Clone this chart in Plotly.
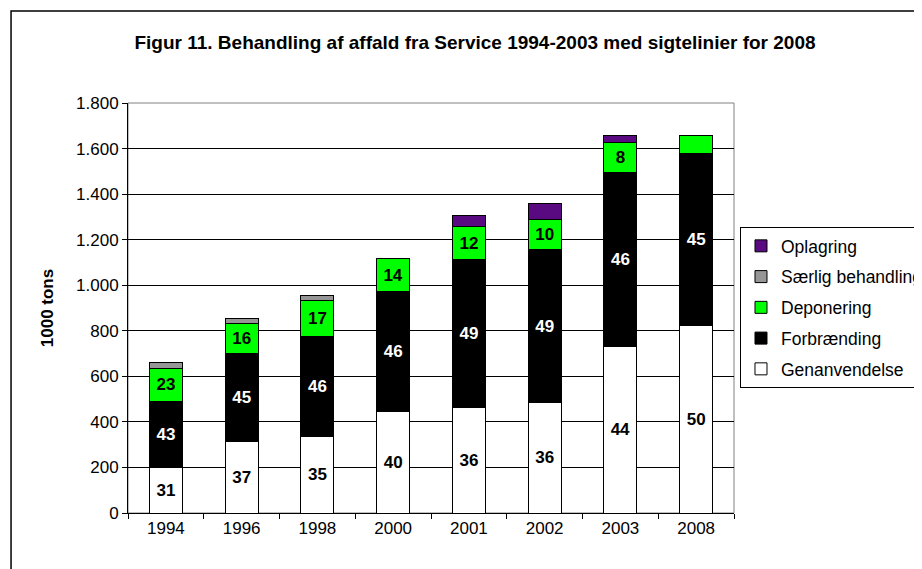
import plotly.graph_objects as go

# ==========================================
# DATA (1000 tons)
# ==========================================

years = ['1994', '1996', '1998', '2000', '2001', '2002', '2003', '2008']

genanvendelse = [201, 314, 334, 447, 462, 484, 732, 822]
forbraending = [290, 387, 442, 525, 649, 673, 763, 757]
deponering = [144, 130, 158, 144, 148, 133, 131, 79]
saerlig = [26, 24, 19, 0, 0, 0, 0, 0]
oplagring = [0, 0, 0, 0, 46, 67, 32, 0]

# percentage labels shown inside the bars
gen_pct = [31, 37, 35, 40, 36, 36, 44, 50]
forb_pct = [43, 45, 46, 46, 49, 49, 46, 45]
dep_pct = [23, 16, 17, 14, 12, 10, 8, None]

y_ticks = [0, 200, 400, 600, 800, 1000, 1200, 1400, 1600, 1800]

FONT = "Arial, 'Liberation Sans', sans-serif"

# page body adds an 8px offset; margins are set with that in mind
W, H = 922, 569


def labels(vals):
    return ['' if v is None else str(v) for v in vals]


# ==========================================
# TRACES
# ==========================================

series = [
    ('Genanvendelse', genanvendelse, '#ffffff', labels(gen_pct), 'black'),
    ('Forbrænding', forbraending, '#000000', labels(forb_pct), 'white'),
    ('Deponering', deponering, '#00ff00', labels(dep_pct), 'black'),
    ('Særlig behandling', saerlig, '#969696', None, 'black'),
    ('Oplagring', oplagring, '#5a0a80', None, 'black'),
]

fig = go.Figure()

for i, (name, vals, color, text, tcolor) in enumerate(series):
    fig.add_trace(go.Bar(
        x=years,
        y=vals,
        name=name,
        legendgroup=f'g{i}',
        legendrank=100 - i,
        marker=dict(color=color, line=dict(color='black', width=1)),
        text=text,
        textposition='inside' if text else 'none',
        insidetextanchor='middle',
        textangle=0,
        constraintext='none',
        textfont=dict(family=FONT, size=17, color=tcolor, weight='bold'),
        hovertemplate=name + ' %{x}: %{y}<extra></extra>',
    ))

# ==========================================
# LAYOUT
# ==========================================

fig.update_layout(
    width=W,
    height=H,
    barmode='stack',
    bargap=0.565,
    separators=',.',
    paper_bgcolor='white',
    plot_bgcolor='white',
    font=dict(family=FONT, size=17, color='black'),
    margin=dict(l=120, r=196, t=95, b=64, autoexpand=False),
    title=dict(
        text='<b>Figur 11. Behandling af affald fra Service 1994-2003 med sigtelinier for 2008</b>',
        x=467 / W, xanchor='center',
        y=1 - 34 / H, yanchor='middle',
        font=dict(family=FONT, size=19, color='black'),
    ),
    xaxis=dict(
        type='category',
        showline=True, linecolor='black', linewidth=1,
        ticks='outside', tickson='boundaries', ticklen=5, tickcolor='black',
        tickfont=dict(size=17),
        showgrid=False,
        automargin=False,
    ),
    yaxis=dict(
        range=[0, 1800],
        tickvals=y_ticks,
        tickformat=',d',
        showline=True, linecolor='black', linewidth=1,
        ticks='outside', ticklen=5, tickcolor='black',
        tickfont=dict(size=17),
        showgrid=True, gridcolor='black', gridwidth=1,
        zeroline=False,
        automargin=False,
        title=dict(text='<b>1000 tons</b>', font=dict(size=17), standoff=18),
    ),
    legend=dict(
        x=1.0099, xanchor='left',
        y=0.6976, yanchor='top',
        traceorder='grouped',
        tracegroupgap=5,
        bgcolor='white',
        bordercolor='black', borderwidth=1,
        font=dict(family=FONT, size=17.5),
        itemwidth=30,
    ),
    shapes=[
        # plot area frame (grey)
        dict(type='rect', xref='paper', yref='paper', x0=0, x1=1, y0=0, y1=1,
             line=dict(color='#808080', width=1), layer='below'),
        # outer chart border
        dict(type='rect', xref='paper', yref='paper',
             x0=-0.193, x1=1.4, y0=-0.3, y1=1.2244,
             line=dict(color='black', width=1.5), layer='below'),
    ],
)

fig.write_html("out.html")
